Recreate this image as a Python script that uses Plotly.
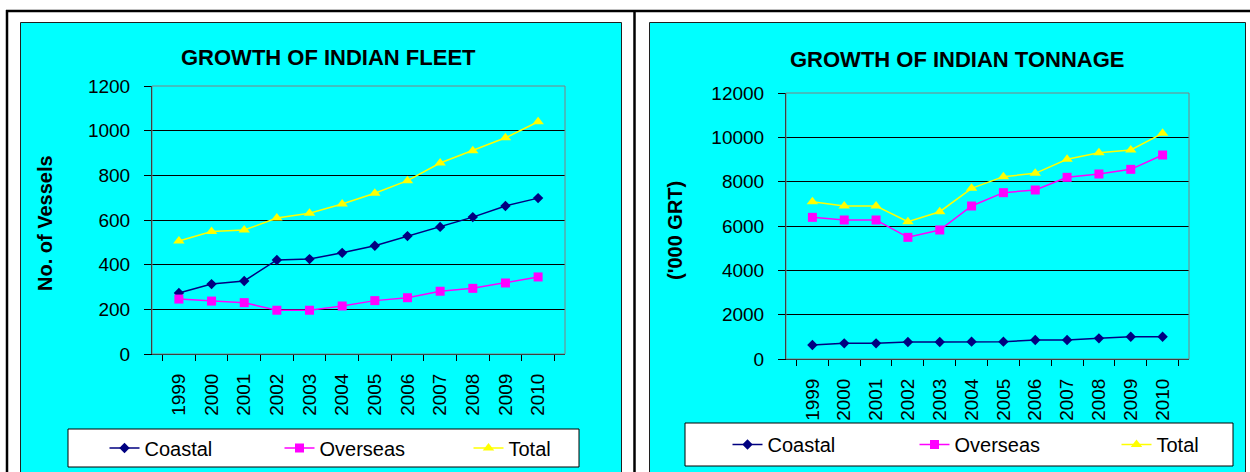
import plotly.graph_objects as go

# ---------------- data ----------------
years = ["1999", "2000", "2001", "2002", "2003", "2004",
         "2005", "2006", "2007", "2008", "2009", "2010"]

fleet_coastal = [273, 313, 327, 421, 425, 453, 485, 528, 569, 613, 663, 698]
fleet_overseas = [246, 237, 230, 196, 196, 215, 239, 252, 281, 294, 318, 345]
fleet_total = [506, 548, 555, 609, 630, 672, 720, 776, 855, 910, 968, 1040]

ton_coastal = [632, 707, 707, 767, 767, 782, 782, 857, 857, 932, 1007, 1007]
ton_overseas = [6391, 6271, 6271, 5489, 5820, 6902, 7503, 7624, 8196, 8346, 8556, 9203]
ton_total = [7097, 6902, 6902, 6194, 6645, 7700, 8226, 8376, 9008, 9308, 9429, 10180]

series_names = ["Coastal", "Overseas", "Total"]
fleet_ticks = [0, 200, 400, 600, 800, 1000, 1200]
ton_ticks = [0, 2000, 4000, 6000, 8000, 10000, 12000]

# ---------------- styling ----------------
W, H = 1250, 472
FONT = "Liberation Sans, Arial, sans-serif"
colors = ["#000080", "#FF00FF", "#FFFF00"]
symbols = ["diamond", "square", "triangle-up"]
msizes = [8, 9, 10]
# one legend per entry so each can be placed like the original
left_legend_x = [104.5, 279.5, 468.5]
right_legend_x = [727.5, 914.5, 1116.5]


def fx(x):
    return x / W


def fy(y):
    return 1 - y / H


fig = go.Figure()

for i, (name, vals) in enumerate(zip(series_names, [fleet_coastal, fleet_overseas, fleet_total])):
    fig.add_trace(go.Scatter(
        x=years, y=vals, name=name, mode="lines+markers",
        line=dict(color=colors[i], width=1.5),
        marker=dict(symbol=symbols[i], size=msizes[i], color=colors[i], line=dict(width=0)),
        xaxis="x", yaxis="y", legend="legend" if i == 0 else f"legend{i + 1}",
    ))

for i, (name, vals) in enumerate(zip(series_names, [ton_coastal, ton_overseas, ton_total])):
    fig.add_trace(go.Scatter(
        x=years, y=vals, name=name, mode="lines+markers",
        line=dict(color=colors[i], width=1.5),
        marker=dict(symbol=symbols[i], size=msizes[i], color=colors[i], line=dict(width=0)),
        xaxis="x2", yaxis="y2", legend=f"legend{i + 4}",
    ))

axis_font = dict(family=FONT, size=19, color="black")

xcommon = dict(type="category", categoryorder="array", categoryarray=years,
               tickangle=-90, ticks="outside", tickson="boundaries", ticklen=6,
               tickcolor="black", tickwidth=1, showline=True, linecolor="black",
               linewidth=1, showgrid=False, zeroline=False, tickfont=axis_font,
               ticklabelstandoff=11, automargin=False)
ycommon = dict(ticks="outside", ticklen=7, tickcolor="black", tickwidth=1,
               showline=True, linecolor="black", linewidth=1, showgrid=True,
               gridcolor="black", gridwidth=1, zeroline=False, tickfont=axis_font,
               ticklabelstandoff=10, tickformat="d", automargin=False)

shapes = [
    # outer frame lines
    dict(type="line", xref="paper", yref="paper", x0=fx(6), x1=fx(1260), y0=fy(11), y1=fy(11),
         line=dict(color="black", width=2.5)),
    dict(type="line", xref="paper", yref="paper", x0=fx(7), x1=fx(7), y0=fy(10), y1=fy(480),
         line=dict(color="black", width=2.5)),
    dict(type="line", xref="paper", yref="paper", x0=fx(634.5), x1=fx(634.5), y0=fy(10), y1=fy(480),
         line=dict(color="black", width=2.5)),
    # cyan chart areas
    dict(type="rect", xref="paper", yref="paper", x0=fx(20.5), x1=fx(621.5), y0=fy(22.5), y1=fy(480),
         fillcolor="#00FFFF", line=dict(color="#202020", width=1), layer="below"),
    dict(type="rect", xref="paper", yref="paper", x0=fx(649.5), x1=fx(1245.5), y0=fy(22.5), y1=fy(480),
         fillcolor="#00FFFF", line=dict(color="#202020", width=1), layer="below"),
    # plot area grey frames
    dict(type="rect", xref="x domain", yref="y domain", x0=0, x1=1, y0=0, y1=1,
         line=dict(color="#808080", width=1), layer="above"),
    dict(type="rect", xref="x2 domain", yref="y2 domain", x0=0, x1=1, y0=0, y1=1,
         line=dict(color="#808080", width=1), layer="above"),
    # legend boxes
    dict(type="rect", xref="paper", yref="paper", x0=fx(68), x1=fx(579), y0=fy(429), y1=fy(467),
         fillcolor="white", line=dict(color="black", width=1), layer="below"),
    dict(type="rect", xref="paper", yref="paper", x0=fx(685), x1=fx(1233), y0=fy(423), y1=fy(466),
         fillcolor="white", line=dict(color="black", width=1), layer="below"),
]

annotations = [
    dict(text="<b>GROWTH OF INDIAN FLEET</b>", x=fx(328), y=fy(57), xref="paper", yref="paper",
         showarrow=False, xanchor="center", yanchor="middle",
         font=dict(family=FONT, size=22, color="black")),
    dict(text="<b>GROWTH OF INDIAN TONNAGE</b>", x=fx(957), y=fy(59), xref="paper", yref="paper",
         showarrow=False, xanchor="center", yanchor="middle",
         font=dict(family=FONT, size=22, color="black")),
    dict(text="<b>No. of Vessels</b>", x=fx(45), y=fy(223), xref="paper", yref="paper",
         showarrow=False, xanchor="center", yanchor="middle", textangle=-90,
         font=dict(family=FONT, size=20, color="black")),
    dict(text="<b>('000 GRT)</b>", x=fx(675), y=fy(231), xref="paper", yref="paper",
         showarrow=False, xanchor="center", yanchor="middle", textangle=-90,
         font=dict(family=FONT, size=20, color="black")),
]

legend_common = dict(orientation="h", xanchor="left", yanchor="middle",
                     bgcolor="rgba(0,0,0,0)", borderwidth=0,
                     font=dict(family=FONT, size=20, color="black"))

legends = {}
for i, lx in enumerate(left_legend_x):
    key = "legend" if i == 0 else f"legend{i + 1}"
    legends[key] = dict(x=fx(lx), y=fy(448), **legend_common)
for i, lx in enumerate(right_legend_x):
    legends[f"legend{i + 4}"] = dict(x=fx(lx), y=fy(444.5), **legend_common)

fig.update_layout(
    width=W, height=H,
    margin=dict(l=0, r=0, t=0, b=0, autoexpand=False),
    paper_bgcolor="white",
    plot_bgcolor="#C0C0C0",
    showlegend=True,
    xaxis=dict(domain=[fx(152), fx(565)], anchor="y", **xcommon),
    yaxis=dict(domain=[fy(354), fy(86)], anchor="x", range=[0, 1200],
               tickvals=fleet_ticks, **ycommon),
    xaxis2=dict(domain=[fx(786), fx(1189)], anchor="y2", **xcommon),
    yaxis2=dict(domain=[fy(359), fy(93)], anchor="x2", range=[0, 12000],
                tickvals=ton_ticks, **ycommon),
    shapes=shapes,
    annotations=annotations,
    **legends,
)

fig.write_html("out.html")
